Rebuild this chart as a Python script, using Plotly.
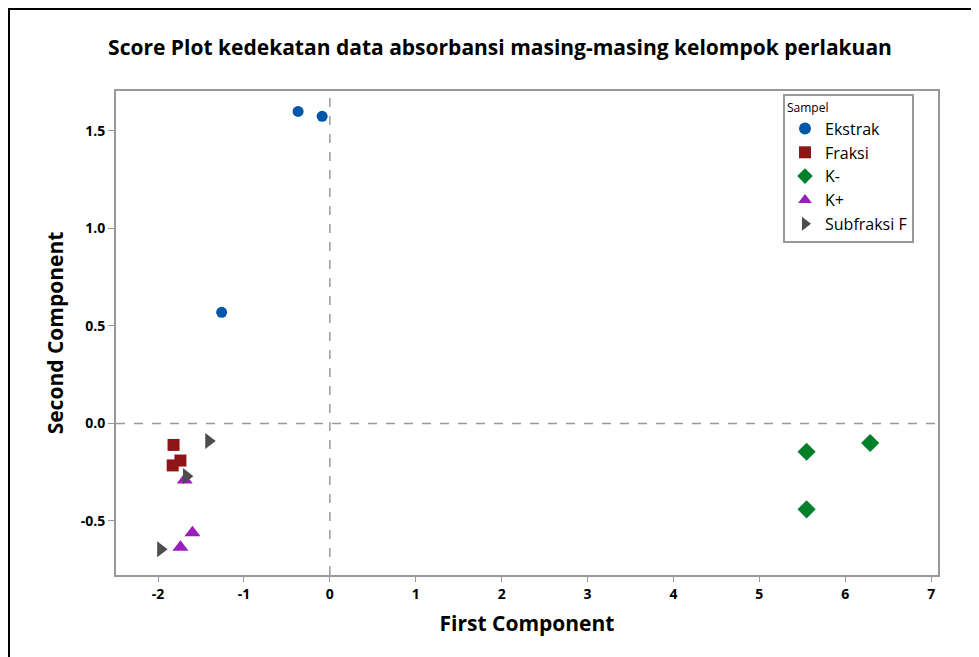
import plotly.graph_objects as go

groups = ["Ekstrak", "Fraksi", "K-", "K+", "Subfraksi F"]
ekstrak_x = [-0.37, -0.09, -1.26]
ekstrak_y = [1.60, 1.575, 0.57]
fraksi_x = [-1.82, -1.74, -1.83]
fraksi_y = [-0.11, -0.19, -0.215]
kneg_x = [5.55, 6.29, 5.55]
kneg_y = [-0.145, -0.10, -0.44]
kpos_x = [-1.69, -1.60, -1.74]
kpos_y = [-0.29, -0.56, -0.635]
sub_x = [-1.41, -1.67, -1.97]
sub_y = [-0.09, -0.27, -0.645]
xticks = [-2, -1, 0, 1, 2, 3, 4, 5, 6, 7]
yticks = [-0.5, 0.0, 0.5, 1.0, 1.5]

xs = [ekstrak_x, fraksi_x, kneg_x, kpos_x, sub_x]
ys = [ekstrak_y, fraksi_y, kneg_y, kpos_y, sub_y]
symbols = ["circle", "square", "diamond", "triangle-up", "triangle-right"]
colors = ["#0057A8", "#8E1518", "#00802A", "#9A1DBD", "#4D4D4D"]
sizes = [11, 12, 14, 14, 14]

L, T, PW, PH = 108, 83, 822, 484

fig = go.Figure()
for g, x, y, s, c, sz in zip(groups, xs, ys, symbols, colors, sizes):
    fig.add_trace(go.Scatter(x=x, y=y, mode="markers", name=g,
                             marker=dict(symbol=s, color=c, size=sz, line=dict(width=0))))

fig.add_shape(type="line", x0=0, x1=0, y0=0, y1=1, xref="x", yref="paper",
              line=dict(color="#999999", width=1.5, dash="dash"))
fig.add_shape(type="line", x0=0, x1=1, y0=0, y1=0, xref="paper", yref="y",
              line=dict(color="#999999", width=1.5, dash="dash"))
# outer frame
fig.add_shape(type="rect", xref="paper", yref="paper",
              x0=-(L - 1) / PW, x1=1.2, y0=-0.3, y1=1 + (T - 1) / PH,
              line=dict(color="black", width=2), fillcolor="rgba(0,0,0,0)", layer="below")

fig.update_layout(
    width=979, height=657,
    margin=dict(l=L, r=979 - L - PW, t=T, b=657 - T - PH),
    paper_bgcolor="white", plot_bgcolor="white",
    font=dict(family="Open Sans, Noto Sans, sans-serif", color="black"),
    title=dict(text="<b>Score Plot kedekatan data absorbansi masing-masing kelompok perlakuan</b>",
               x=(500 - 8) / 979, xanchor="center", y=1 - 40 / 657, yanchor="middle",
               font=dict(size=21)),
    showlegend=True,
    legend=dict(x=(775 - L) / PW, y=1 - 3 / PH, xanchor="left", yanchor="top",
                bordercolor="#999999", borderwidth=2, bgcolor="white",
                title=dict(text="Sampel", font=dict(size=12)),
                font=dict(size=16), itemsizing="constant",
                tracegroupgap=0),
)
fig.update_xaxes(range=[-2.49, 7.08], tickvals=xticks,
                 ticktext=["<b>%d</b>" % v for v in xticks],
                 showgrid=False, zeroline=False, showline=True, linecolor="#999999",
                 linewidth=2, mirror=True, ticks="outside", ticklen=5, tickcolor="#999999",
                 tickfont=dict(size=14),
                 title=dict(text="<b>First Component</b>", font=dict(size=21), standoff=15))
fig.update_yaxes(range=[-0.777, 1.705], tickvals=yticks,
                 ticktext=["<b>%.1f</b>" % v for v in yticks],
                 showgrid=False, zeroline=False, showline=True, linecolor="#999999",
                 linewidth=2, mirror=True, ticks="outside", ticklen=6, tickcolor="#999999",
                 tickfont=dict(size=14),
                 title=dict(text="<b>Second Component</b>", font=dict(size=21), standoff=11))

fig.write_html("out.html")
